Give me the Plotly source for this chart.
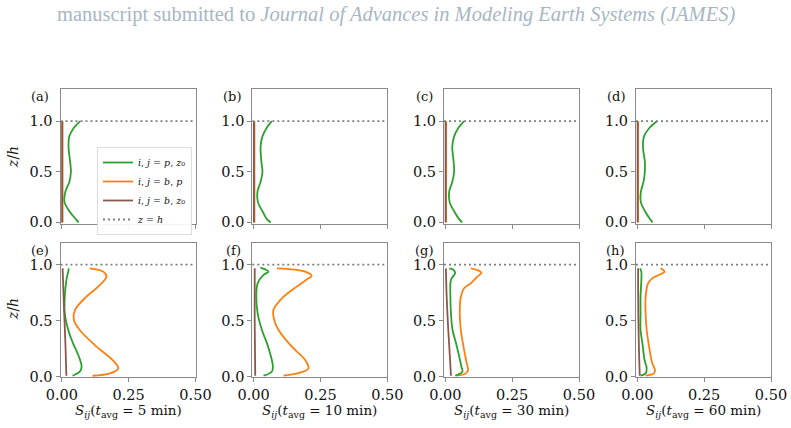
import plotly.graph_objects as go

W, H = 791, 428
GREEN, ORANGE, BROWN, GRAY = "#2ca02c", "#ff7f0e", "#8c564b", "#7f7f7f"
SPINE = "#8a8a8a"

panel_labels = ["(a)", "(b)", "(c)", "(d)", "(e)", "(f)", "(g)", "(h)"]
t_avg = [5, 10, 30, 60]
z_h = 1.0

# ---- top row (a)-(d) ----
z_top = [0.0, 0.03, 0.1, 0.2, 0.3, 0.4, 0.5, 0.6, 0.75, 0.85, 0.93, 1.0]
green_top = [
    [0.063, 0.053, 0.031, 0.010, 0.013, 0.028, 0.034, 0.031, 0.025, 0.028, 0.044, 0.069],
    [0.064, 0.050, 0.035, 0.016, 0.014, 0.026, 0.033, 0.029, 0.026, 0.033, 0.048, 0.068],
    [0.063, 0.052, 0.035, 0.016, 0.014, 0.026, 0.033, 0.031, 0.026, 0.033, 0.048, 0.070],
    [0.057, 0.048, 0.031, 0.013, 0.013, 0.023, 0.028, 0.028, 0.021, 0.025, 0.044, 0.073],
]
z_top_flat = [0.0, 0.5, 1.0]
orange_top = [[0.003, 0.003, 0.003]] * 4
brown_top = [[0.001, 0.001, 0.001]] * 4

# ---- bottom row (e)-(h) ----
orange_bot_z = [
    [0.009, 0.03, 0.074, 0.149, 0.268, 0.417, 0.506, 0.595, 0.714, 0.804, 0.893, 0.938, 0.967],
    [0.009, 0.036, 0.074, 0.149, 0.268, 0.417, 0.506, 0.595, 0.714, 0.804, 0.878, 0.899, 0.938, 0.967],
    [0.009, 0.03, 0.06, 0.119, 0.268, 0.417, 0.565, 0.714, 0.789, 0.833, 0.893, 0.929, 0.952, 0.967],
    [0.009, 0.03, 0.06, 0.119, 0.268, 0.417, 0.565, 0.714, 0.833, 0.878, 0.908, 0.938, 0.958, 0.967],
]
orange_bot = [
    [0.115, 0.180, 0.211, 0.190, 0.130, 0.067, 0.045, 0.049, 0.092, 0.136, 0.167, 0.155, 0.105],
    [0.112, 0.174, 0.205, 0.193, 0.143, 0.093, 0.077, 0.074, 0.112, 0.161, 0.205, 0.217, 0.192, 0.087],
    [0.040, 0.077, 0.085, 0.080, 0.068, 0.058, 0.054, 0.058, 0.070, 0.095, 0.120, 0.135, 0.120, 0.095],
    [0.031, 0.062, 0.066, 0.056, 0.044, 0.035, 0.031, 0.031, 0.040, 0.056, 0.081, 0.102, 0.094, 0.087],
]
green_bot_z = [
    [0.009, 0.045, 0.089, 0.179, 0.298, 0.417, 0.565, 0.714, 0.863, 0.938, 0.967],
    [0.009, 0.045, 0.089, 0.179, 0.298, 0.417, 0.565, 0.714, 0.833, 0.908, 0.938, 0.958, 0.973],
    [0.009, 0.045, 0.089, 0.179, 0.298, 0.417, 0.565, 0.714, 0.863, 0.929, 0.958, 0.967],
    [0.009, 0.03, 0.074, 0.149, 0.298, 0.417, 0.565, 0.714, 0.863, 0.938, 0.967],
]
green_bot = [
    [0.040, 0.067, 0.074, 0.064, 0.042, 0.024, 0.011, 0.011, 0.017, 0.024, 0.026],
    [0.037, 0.068, 0.072, 0.065, 0.050, 0.031, 0.015, 0.010, 0.015, 0.037, 0.056, 0.043, 0.025],
    [0.037, 0.064, 0.060, 0.052, 0.040, 0.027, 0.021, 0.019, 0.021, 0.037, 0.027, 0.015],
    [0.012, 0.031, 0.035, 0.027, 0.019, 0.012, 0.012, 0.012, 0.015, 0.015, 0.010],
]
brown_bot_z = [
    [0.009, 0.25, 0.5, 0.75, 0.967],
    [0.009, 0.25, 0.5, 0.75, 0.967],
    [0.009, 0.179, 0.417, 0.714, 0.967],
    [0.009, 0.25, 0.5, 0.75, 0.967],
]
brown_bot = [
    [0.017, 0.014, 0.010, 0.006, 0.003],
    [0.006, 0.005, 0.004, 0.004, 0.004],
    [0.021, 0.017, 0.011, 0.005, 0.002],
    [0.009, 0.006, 0.004, 0.003, 0.003],
]

x_ticks = [0.0, 0.25, 0.5]
y_ticks = [0.0, 0.5, 1.0]
x_range = [-0.005, 0.5]
y_range_top = [-0.016, 1.318]
y_range_bot = [-0.005, 1.196]

# layout (pixels)
col_left = [60.5, 252.3, 444.0, 636.0]
col_w = 135.0
row_top = [(89.0, 224.0), (242.7, 377.3)]

legend_names = [
    "<i>i</i>, <i>j</i> = <i>p</i>, <i>z</i>\u2080",
    "<i>i</i>, <i>j</i> = <i>b</i>, <i>p</i>",
    "<i>i</i>, <i>j</i> = <i>b</i>, <i>z</i>\u2080",
    "<i>z</i> = <i>h</i>",
]

fig = go.Figure()
SERIF = "DejaVu Serif, Liberation Serif, serif"

def ax_id(idx):
    return "" if idx == 1 else str(idx)

def add_line(idx, xs, zs, color, name, show, rank):
    fig.add_trace(go.Scatter(
        x=xs, y=zs, mode="lines",
        line=dict(color=color, width=1.8, shape="spline", smoothing=1.0),
        xaxis="x" + ax_id(idx), yaxis="y" + ax_id(idx),
        name=name, showlegend=show, legendrank=rank, hoverinfo="skip"))

layout = {}
annotations = []
shapes = []
for r in range(2):
    for c in range(4):
        idx = r * 4 + c + 1
        sfx = ax_id(idx)
        if r == 0:
            add_line(idx, orange_top[c], z_top_flat, ORANGE, legend_names[1], idx == 1, 2)
            add_line(idx, brown_top[c], z_top_flat, BROWN, legend_names[2], idx == 1, 3)
            add_line(idx, green_top[c], z_top, GREEN, legend_names[0], idx == 1, 1)
        else:
            add_line(idx, orange_bot[c], orange_bot_z[c], ORANGE, legend_names[1], False, 2)
            add_line(idx, green_bot[c], green_bot_z[c], GREEN, legend_names[0], False, 1)
            add_line(idx, brown_bot[c], brown_bot_z[c], BROWN, legend_names[2], False, 3)
        x0 = col_left[c] / W
        x1 = (col_left[c] + col_w) / W
        yt, yb = row_top[r]
        y0 = 1 - yb / H
        y1 = 1 - yt / H
        layout["xaxis" + sfx] = dict(
            domain=[x0, x1], anchor="y" + sfx, range=x_range, automargin=False,
            tickvals=x_ticks, ticktext=["%.2f" % v for v in x_ticks],
            showticklabels=(r == 1), ticks="outside", ticklen=4, tickwidth=1,
            tickcolor=SPINE, showline=True, linecolor=SPINE, linewidth=1,
            mirror=True, showgrid=False, zeroline=False,
            tickfont=dict(family=SERIF, size=14.5, color="#111"))
        layout["yaxis" + sfx] = dict(
            domain=[y0, y1], anchor="x" + sfx, automargin=False,
            range=y_range_top if r == 0 else y_range_bot,
            tickvals=y_ticks, ticktext=["%.1f" % v for v in y_ticks],
            ticks="outside", ticklen=4, tickwidth=1, tickcolor=SPINE,
            showline=True, linecolor=SPINE, linewidth=1, mirror=True,
            showgrid=False, zeroline=False,
            tickfont=dict(family=SERIF, size=14.5, color="#111"))
        shapes.append(dict(
            type="line", xref="x%s domain" % sfx, yref="y" + sfx,
            x0=0, x1=1, y0=z_h, y1=z_h,
            line=dict(color=GRAY, width=1.8, dash="2px,3px"),
            showlegend=(idx == 1), name=legend_names[3], legendrank=4))
        annotations.append(dict(
            x=(col_left[c] - 9.5) / W, y=1 - (96.5 if r == 0 else 250.0) / H,
            xref="paper", yref="paper", text=panel_labels[idx - 1],
            showarrow=False, xanchor="right", yanchor="middle",
            font=dict(family=SERIF, size=13, color="#111")))
        if r == 1:
            annotations.append(dict(
                x=(col_left[c] + col_w / 2) / W, y=1 - 411 / H,
                xref="paper", yref="paper",
                text="<i>S</i><sub><i>ij</i></sub>(<i>t</i><sub>avg</sub> = %d min)" % t_avg[c],
                showarrow=False, xanchor="center", yanchor="middle",
                font=dict(family=SERIF, size=13.5, color="#111")))
    annotations.append(dict(
        x=13 / W, y=1 - (157 if r == 0 else 309) / H, xref="paper", yref="paper",
        text="<i>z</i>/<i>h</i>", textangle=-90, showarrow=False,
        xanchor="center", yanchor="middle",
        font=dict(family=SERIF, size=14, color="#111")))

annotations.append(dict(
    x=396 / W, y=1 - 15 / H, xref="paper", yref="paper",
    text="manuscript submitted to <i>Journal of Advances in Modeling Earth Systems (JAMES)</i>",
    showarrow=False, xanchor="center", yanchor="middle",
    font=dict(family="Liberation Serif", size=20.5, color="#a7b6c3")))

fig.update_layout(
    template="none",
    width=W, height=H, margin=dict(l=0, r=0, t=0, b=0, autoexpand=False),
    paper_bgcolor="white", plot_bgcolor="white",
    annotations=annotations, shapes=shapes,
    legend=dict(x=192 / W, y=1 - 147 / H, xanchor="right", yanchor="top",
                bgcolor="rgba(255,255,255,0.9)", bordercolor="#dcdcdc",
                borderwidth=1, font=dict(family=SERIF, size=9.5, color="#111"),
                itemwidth=30, tracegroupgap=0),
    **layout)

fig.write_html("out.html")
